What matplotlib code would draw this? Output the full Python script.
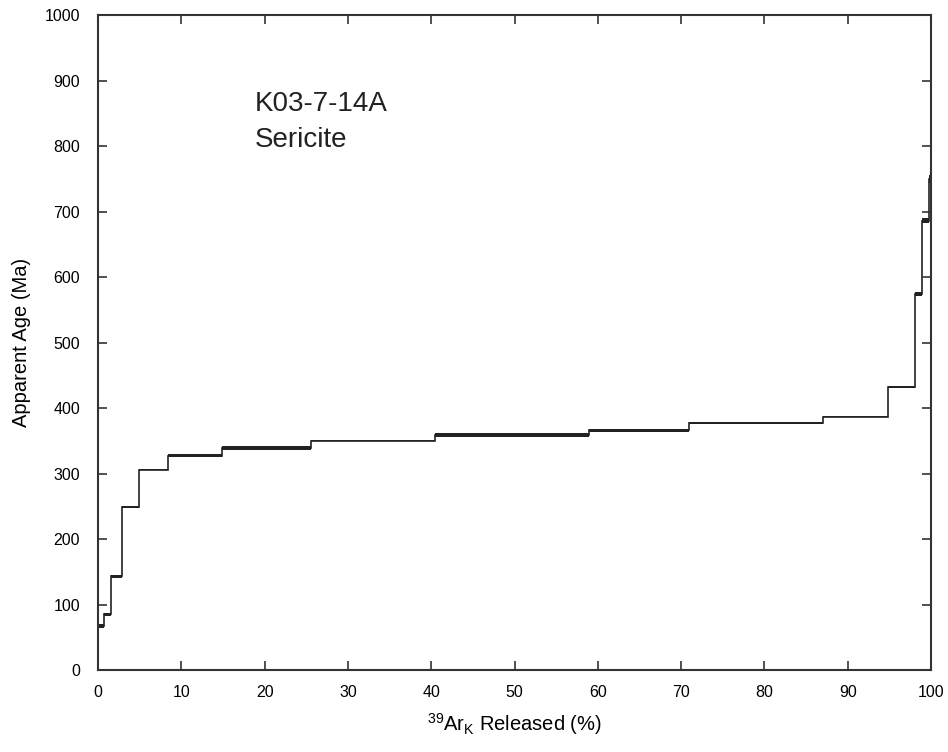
"""Ar-Ar age spectrum for sample K03-7-14A (sericite)."""

import matplotlib

matplotlib.use("Agg")
import matplotlib.pyplot as plt
import numpy as np

plt.rcParams["font.family"] = ["Liberation Sans", "DejaVu Sans"]
plt.rcParams["mathtext.fontset"] = "custom"
plt.rcParams["mathtext.rm"] = "Liberation Sans"

# cumulative 39Ar released (%) at step boundaries
step_edges = [0, 0.7, 1.6, 2.9, 4.9, 8.4, 14.9, 25.6, 40.5, 59.0, 71.0,
              87.0, 94.8, 98.1, 98.9, 99.7, 100]
# apparent age of each step (Ma) and its half-width error
step_ages = [67, 85, 143, 249, 306, 327, 339, 350, 359, 366, 377,
             387, 432, 574, 686, 750]
step_errors = [3.5, 2.5, 2.5, 1.5, 1, 2.5, 2.5, 0.5, 2.5, 2.5, 2, 0.5, 2, 3.5, 3.5, 6]

sample_name = "K03-7-14A"
mineral = "Sericite"

INK = "#222222"

ages = np.asarray(step_ages, dtype=float)
errs = np.asarray(step_errors, dtype=float)

fig = plt.figure(figsize=(9.48, 7.52), dpi=100)
ax = fig.add_axes([0.1034, 0.109, 0.8787, 0.871])

ax.stairs(ages + errs, step_edges, baseline=ages - errs, fill=True,
          color=INK, linewidth=0)
ax.stairs(ages, step_edges, baseline=None, color=INK, linewidth=1.2)

ax.set_xlim(0, 100)
ax.set_ylim(0, 1000)
ax.set_xticks(np.arange(0, 101, 10))
ax.set_yticks(np.arange(0, 1001, 100))
ax.tick_params(direction="in", length=6.5, width=1.2, color="#333333",
               labelsize=11.5, top=True, right=True, pad=11)
ax.tick_params(axis="y", pad=13)
for spine in ax.spines.values():
    spine.set_linewidth(1.5)
    spine.set_color("#333333")

ax.set_xlabel(r"$^{\mathrm{39}}$Ar$_{\mathrm{K}}$ Released (%)", fontsize=14.5,
              labelpad=8)
ax.set_ylabel("Apparent Age (Ma)", fontsize=14.5, labelpad=10)

ax.text(18.85, 864, sample_name, fontsize=20, ha="left", va="center", color=INK)
ax.text(18.85, 809, mineral, fontsize=20, ha="left", va="center", color=INK)

fig.savefig("out.png", dpi=100)
